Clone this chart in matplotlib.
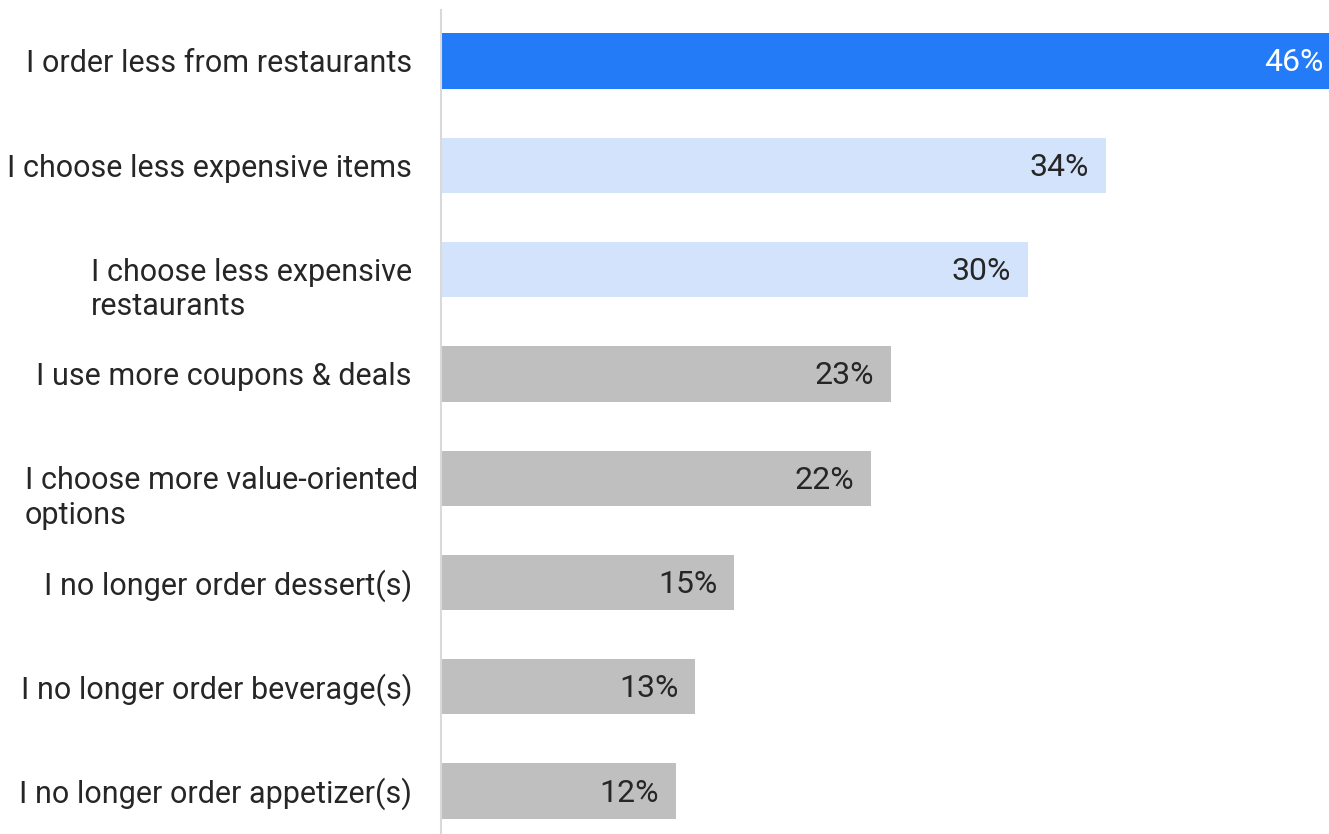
import matplotlib.pyplot as plt

labels = [
    'I order less from restaurants',
    'I choose less expensive items',
    'I choose less expensive\nrestaurants',
    'I use more coupons & deals',
    'I choose more value-oriented\noptions',
    'I no longer order dessert(s)',
    'I no longer order beverage(s)',
    'I no longer order appetizer(s)',
]
values = [46, 34, 30, 23, 22, 15, 13, 12]
colors = ['#237BF7', '#D4E3FC', '#D4E3FC'] + ['#BFBFBF'] * 5
text_colors = ['white'] + ['#262626'] * 7

plt.rcParams['font.family'] = ['Roboto', 'DejaVu Sans']

fig = plt.figure(figsize=(13.29, 8.34), dpi=100)
ax = fig.add_axes([441 / 1329, 0, 1 - 441 / 1329, 824 / 834])

ypos = list(range(len(values)))
ax.barh(ypos, values, height=0.53, color=colors)

# value labels sit inside the bar end
for y, v, c in zip(ypos, values, text_colors):
    ax.annotate(f'{v}%', (v, y), xytext=(-17, -2), textcoords='offset pixels',
                ha='right', va='center', fontsize=23, color=c,
                annotation_clip=False)

# category labels, wrapped ones hang a little lower
for y, lab in zip(ypos, labels):
    dy = -20 if '\n' in lab else -3
    dx = -23 if 'value' in lab else -29
    ax.annotate(lab, (0, y), xytext=(dx, dy), textcoords='offset pixels',
                ha='right', va='center', multialignment='left',
                fontsize=22, color='#262626', annotation_clip=False,
                linespacing=1.25)

ax.set_xlim(0, 45.4)
ax.set_ylim(7.412, -0.489)
ax.set_xticks([])
ax.set_yticks([])

for s in ['top', 'right', 'bottom']:
    ax.spines[s].set_visible(False)
ax.spines['left'].set_color('#D9D9D9')
ax.spines['left'].set_linewidth(1.5)

fig.savefig('out.png', dpi=100)
